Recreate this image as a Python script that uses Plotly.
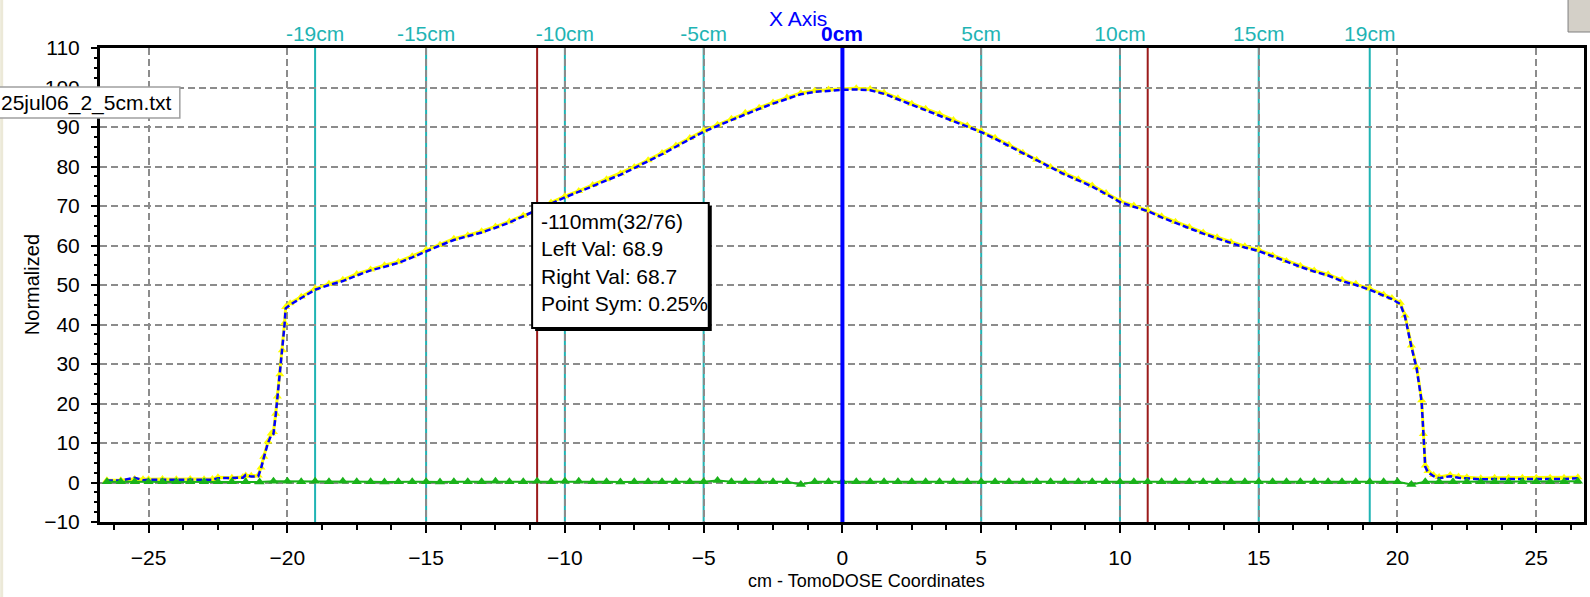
import plotly.graph_objects as go

# ---------------- data ----------------
prof_x = [-26.5, -26.0, -25.5, -25.2, -25.0, -24.5, -24.0, -23.5, -23.0, -22.7,
          -22.5, -22.0, -21.6, -21.5, -21.3, -21.05, -20.95, -20.85, -20.7, -20.58,
          -20.5, -20.42, -20.36, -20.27, -20.18, -20.1, -20.06, -19.9, -19.5, -19.0,
          -18.5, -18.0, -17.5, -17.0, -16.5, -16.0, -15.5, -15.0, -14.5, -14.0,
          -13.5, -13.0, -12.5, -12.0, -11.5, -11.0, -10.5, -10.0, -9.5, -9.0,
          -8.5, -8.0, -7.5, -7.0, -6.5, -6.0, -5.5, -5.0, -4.5, -4.0,
          -3.5, -3.0, -2.5, -2.0, -1.5, -1.0, -0.5, 0.0, 0.5, 1.0,
          1.5, 2.0, 2.5, 3.0, 3.5, 4.0, 4.5, 5.0, 5.5, 6.0,
          6.5, 7.0, 7.5, 8.0, 8.5, 9.0, 9.5, 10.0, 10.5, 11.0,
          11.5, 12.0, 12.5, 13.0, 13.5, 14.0, 14.5, 15.0, 15.5, 16.0,
          16.5, 17.0, 17.5, 18.0, 18.5, 19.0, 19.5, 19.8, 20.1, 20.27,
          20.5, 20.69, 20.87, 20.93, 21.0, 21.1, 21.3, 21.5, 21.9, 22.2,
          22.5, 23.0, 23.5, 24.0, 24.5, 25.0, 25.5, 26.0, 26.5]

measured_y = [0.5, 0.5, 1.2, 0.6, 0.7, 0.7, 0.7, 0.7, 0.7, 0.7,
              1.1, 1.1, 1.2, 1.9, 1.5, 1.6, 3.5, 6.2, 10.0, 12.0,
              12.3, 17.0, 21.3, 27.0, 33.0, 40.0, 44.1, 45.0, 46.7, 48.8,
              50.0, 51.0, 52.4, 53.7, 54.6, 55.6, 57.0, 58.6, 60.0, 61.4,
              62.4, 63.3, 64.5, 65.8, 67.4, 68.9, 70.6, 72.2, 73.5, 75.0,
              76.5, 77.9, 79.6, 81.3, 83.1, 85.0, 86.9, 88.8, 90.3, 91.8,
              93.3, 94.6, 95.9, 97.2, 98.3, 98.9, 99.2, 99.4, 99.5, 99.3,
              98.4, 97.0, 95.6, 94.3, 93.0, 91.5, 90.1, 88.7, 87.0, 85.2,
              83.2, 81.4, 79.6, 78.0, 76.5, 74.9, 73.0, 71.0, 69.8, 68.7,
              67.1, 65.7, 64.4, 63.0, 61.8, 60.6, 59.5, 58.6, 57.2, 55.8,
              54.6, 53.4, 52.4, 51.0, 50.0, 48.8, 47.3, 46.4, 45.2, 42.0,
              34.4, 28.9, 20.5, 12.0, 4.0, 2.6, 1.6, 1.1, 1.6, 1.2,
              1.0, 0.8, 0.9, 0.9, 0.9, 0.9, 0.9, 0.9, 1.1]

mirror_y = [0.6, 0.6, 0.9, 0.8, 0.8, 0.9, 0.8, 0.9, 0.8, 0.9,
            1.3, 1.2, 1.4, 1.8, 1.7, 1.8, 3.8, 6.5, 10.4, 12.4,
            12.8, 17.4, 21.8, 27.4, 33.5, 40.4, 44.4, 45.4, 47.0, 49.1,
            50.3, 51.3, 52.8, 53.9, 55.0, 55.9, 57.3, 58.9, 60.2, 61.7,
            62.6, 63.6, 64.8, 66.1, 67.6, 68.7, 70.9, 72.5, 73.8, 75.3,
            76.8, 78.2, 79.9, 81.6, 83.4, 85.3, 87.2, 89.1, 90.6, 92.1,
            93.6, 94.9, 96.2, 97.5, 98.6, 99.2, 99.5, 99.7, 99.8, 99.6,
            98.7, 97.3, 95.9, 94.6, 93.3, 91.8, 90.4, 89.0, 87.3, 85.5,
            83.5, 81.7, 79.9, 78.3, 76.8, 75.2, 73.3, 71.3, 70.1, 68.9,
            67.4, 66.0, 64.7, 63.3, 62.1, 60.9, 59.8, 58.9, 57.5, 56.1,
            54.9, 53.7, 52.7, 51.3, 50.3, 49.1, 47.6, 46.7, 45.5, 42.3,
            34.7, 29.2, 20.8, 12.3, 4.3, 2.9, 1.9, 1.4, 1.9, 1.5,
            1.3, 1.1, 1.2, 1.2, 1.2, 1.2, 1.2, 1.2, 1.3]

diff_x = [-26.5, -26.0, -25.5, -25.0, -24.5, -24.0, -23.5, -23.0, -22.5, -22.0,
          -21.5, -21.0, -20.5, -20.0, -19.5, -19.0, -18.5, -18.0, -17.5, -17.0,
          -16.5, -16.0, -15.5, -15.0, -14.5, -14.0, -13.5, -13.0, -12.5, -12.0,
          -11.5, -11.0, -10.5, -10.0, -9.5, -9.0, -8.5, -8.0, -7.5, -7.0,
          -6.5, -6.0, -5.5, -5.0, -4.5, -4.0, -3.5, -3.0, -2.5, -2.0,
          -1.5, -1.0, -0.5, 0.0, 0.5, 1.0, 1.5, 2.0, 2.5, 3.0,
          3.5, 4.0, 4.5, 5.0, 5.5, 6.0, 6.5, 7.0, 7.5, 8.0,
          8.5, 9.0, 9.5, 10.0, 10.5, 11.0, 11.5, 12.0, 12.5, 13.0,
          13.5, 14.0, 14.5, 15.0, 15.5, 16.0, 16.5, 17.0, 17.5, 18.0,
          18.5, 19.0, 19.5, 20.0, 20.5, 21.0, 21.5, 22.0, 22.5, 23.0,
          23.5, 24.0, 24.5, 25.0, 25.5, 26.0, 26.5]

diff_y = [0.2, 0.2, 0.2, 0.2, 0.2, 0.2, 0.2, 0.2, 0.2, 0.2,
          0.2, 0.1, 0.3, 0.3, 0.2, 0.3, 0.2, 0.3, 0.2, 0.2,
          0.1, 0.2, 0.2, 0.2, 0.1, 0.2, 0.2, 0.2, 0.3, 0.2,
          0.2, 0.3, 0.2, 0.3, 0.3, 0.2, 0.2, 0.1, 0.2, 0.2,
          0.2, 0.2, 0.2, 0.2, 0.5, 0.2, 0.2, 0.2, 0.2, 0.2,
          -0.5, 0.2, 0.2, 0.2, 0.2, 0.2, 0.2, 0.2, 0.2, 0.2,
          0.2, 0.2, 0.2, 0.2, 0.2, 0.2, 0.2, 0.2, 0.2, 0.2,
          0.2, 0.2, 0.2, 0.2, 0.2, 0.2, 0.2, 0.2, 0.2, 0.2,
          0.2, 0.2, 0.2, 0.2, 0.2, 0.2, 0.2, 0.2, 0.2, 0.2,
          0.2, 0.2, 0.2, 0.2, -0.5, 0.2, 0.2, 0.2, 0.2, 0.2,
          0.2, 0.2, 0.2, 0.2, 0.2, 0.2, 0.3]

top_tick_vals = [-19, -15, -10, -5, 5, 10, 15, 19]
top_tick_text = ["-19cm", "-15cm", "-10cm", "-5cm", "5cm", "10cm", "15cm", "19cm"]
center_val = [0]
center_text = ["0cm"]
cursor_lines = [-11, 11]

file_label = "25jul06_2_5cm.txt"
tooltip_lines = ["-110mm(32/76)", "Left Val: 68.9", "Right Val: 68.7", "Point Sym: 0.25%"]

# ---------------- layout geometry ----------------
W, H = 1590, 597
ML, MR, MT, MB = 100, 3, 48, 75
PW = W - ML - MR
PH = H - MT - MB
FONT = "Liberation Sans, Arial, sans-serif"
CYAN = "#1FB4B4"


def px_x(p):
    return (p - ML) / PW


def px_y(p):
    return (H - MB - p) / PH


fig = go.Figure()

fig.add_trace(go.Scatter(
    x=prof_x, y=mirror_y, mode="lines+markers",
    line=dict(color="#FFFF00", width=3),
    marker=dict(symbol="triangle-up", size=8, color="#FFFF00"),
    showlegend=False, hoverinfo="skip"))
fig.add_trace(go.Scatter(
    x=prof_x, y=measured_y, mode="lines",
    line=dict(color="#0000FF", width=2.5, dash="6px,3px"),
    showlegend=False, hoverinfo="skip"))
fig.add_trace(go.Scatter(
    x=diff_x, y=diff_y, mode="lines+markers",
    line=dict(color="#19B219", width=2),
    marker=dict(symbol="triangle-up", size=9, color="#19B219"),
    showlegend=False, hoverinfo="skip"))
# invisible trace to activate the top axis
fig.add_trace(go.Scatter(x=top_tick_vals, y=[None] * len(top_tick_vals),
                         xaxis="x2", yaxis="y", showlegend=False, hoverinfo="skip"))

shapes = []
for v in top_tick_vals:
    shapes.append(dict(type="line", xref="x", yref="paper", x0=v, x1=v, y0=0, y1=1,
                       line=dict(color=CYAN, width=2), layer="between"))
for v in cursor_lines:
    shapes.append(dict(type="line", xref="x", yref="paper", x0=v, x1=v, y0=0, y1=1,
                       line=dict(color="#9B1B1B", width=2), layer="between"))
for v in center_val:
    shapes.append(dict(type="line", xref="x", yref="paper", x0=v, x1=v, y0=0, y1=1,
                       line=dict(color="#0000FF", width=4), layer="above"))

# left beige window strip
shapes.append(dict(type="rect", xref="paper", yref="paper",
                   x0=px_x(0), x1=px_x(3), y0=px_y(H), y1=px_y(0),
                   fillcolor="#ECE9D8", line=dict(width=0), layer="above"))
# top-right small button
shapes.append(dict(type="rect", xref="paper", yref="paper",
                   x0=px_x(1571), x1=px_x(1595), y0=px_y(32), y1=px_y(-3),
                   fillcolor="#D4D0C8", line=dict(color="#808080", width=1), layer="above"))
# file label box
shapes.append(dict(type="rect", xref="paper", yref="paper",
                   x0=px_x(-3), x1=px_x(180), y0=px_y(118), y1=px_y(87),
                   fillcolor="#FFFFFF", line=dict(color="#A0A0A0", width=1.5), layer="above"))
# tooltip box with shadow
shapes.append(dict(type="rect", xref="paper", yref="paper",
                   x0=px_x(536), x1=px_x(713), y0=px_y(331), y1=px_y(206),
                   fillcolor="#000000", line=dict(width=0), layer="above"))
shapes.append(dict(type="rect", xref="paper", yref="paper",
                   x0=px_x(533), x1=px_x(710), y0=px_y(328), y1=px_y(203),
                   fillcolor="#FFFFFF", line=dict(color="#000000", width=2), layer="above"))

annotations = [
    dict(text="X Axis", xref="paper", yref="paper", x=px_x(799), y=px_y(18),
         xanchor="center", yanchor="middle",
         showarrow=False, font=dict(family=FONT, size=21, color="#0000FF")),
    dict(text="<b>" + center_text[0] + "</b>", xref="x", yref="paper", x=center_val[0], y=px_y(34),
         xanchor="center", yanchor="middle",
         showarrow=False, font=dict(family=FONT, size=21, color="#0000FF")),
    dict(text="cm - TomoDOSE Coordinates", xref="paper", yref="paper", x=px_x(868), y=px_y(581),
         xanchor="center", yanchor="middle",
         showarrow=False, font=dict(family=FONT, size=18, color="#000000")),
    dict(text="Normalized", xref="paper", yref="paper", x=px_x(32), y=px_y(285),
         xanchor="center", yanchor="middle",
         showarrow=False, textangle=-90, font=dict(family=FONT, size=20, color="#000000")),
    dict(text=file_label, xref="paper", yref="paper", x=px_x(174), y=px_y(102.5),
         xanchor="right", yanchor="middle", showarrow=False,
         font=dict(family=FONT, size=21, color="#000000")),
    dict(text="<br>".join(tooltip_lines), xref="paper", yref="paper", x=px_x(540), y=px_y(208),
         xanchor="left", yanchor="top", align="left", showarrow=False,
         font=dict(family=FONT, size=21, color="#000000")),
]

grid = dict(showgrid=True, gridcolor="#8C8C8C", gridwidth=2, griddash="7px,4px")
tickfont = dict(family=FONT, size=21, color="#000000")

fig.update_layout(
    width=W, height=H,
    margin=dict(l=ML, r=MR, t=MT, b=MB, pad=0),
    paper_bgcolor="#FFFFFF", plot_bgcolor="#FFFFFF",
    shapes=shapes, annotations=annotations,
    xaxis=dict(range=[-26.75, 26.72], dtick=5, tick0=0, **grid,
               showline=True, linecolor="#000000", linewidth=3, mirror=True,
               ticks="outside", ticklen=8, tickwidth=2, tickcolor="#000000",
               minor=dict(dtick=1.25, tick0=0, ticks="outside", ticklen=5, tickwidth=1.5,
                          tickcolor="#000000", showgrid=False),
               tickfont=tickfont, ticklabelstandoff=7, zeroline=False),
    xaxis2=dict(range=[-26.75, 26.72], overlaying="x", side="top", anchor="y",
                tickvals=top_tick_vals, ticktext=top_tick_text, ticks="",
                tickfont=dict(family=FONT, size=21, color=CYAN),
                showgrid=False, showline=False, zeroline=False, ticklabelstandoff=2),
    yaxis=dict(range=[-10, 110], dtick=10, tick0=0, **grid,
               showline=True, linecolor="#000000", linewidth=3, mirror=True,
               ticks="outside", ticklen=6, tickwidth=2, tickcolor="#000000",
               minor=dict(dtick=2.5, tick0=0, ticks="outside", ticklen=3, tickwidth=1.5,
                          tickcolor="#000000", showgrid=False),
               tickfont=tickfont, ticklabelstandoff=7, zeroline=False),
)

fig.write_html("out.html")
